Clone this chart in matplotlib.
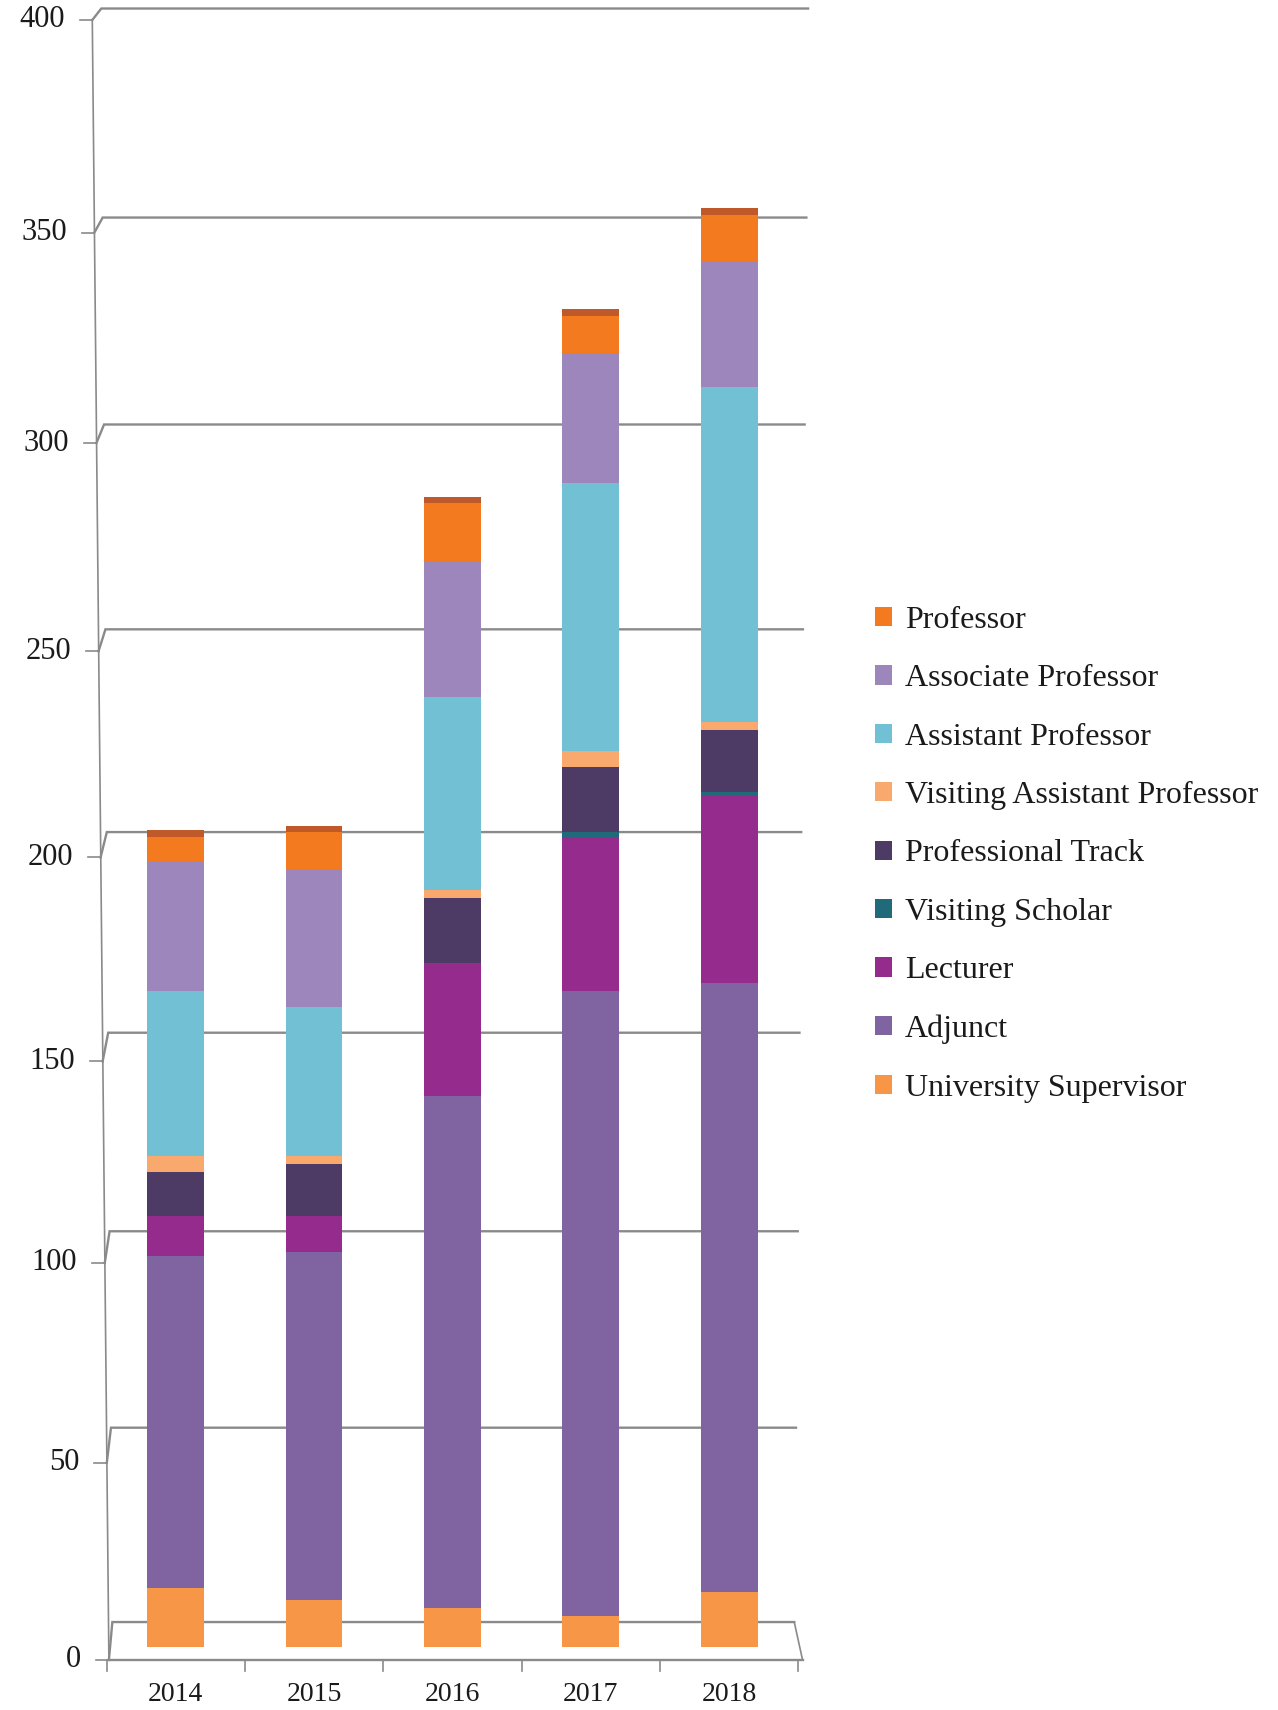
import numpy as np
import matplotlib.pyplot as plt
from matplotlib.patches import Patch

plt.rcParams['font.family'] = ['Liberation Serif', 'DejaVu Serif']

years = ['2014', '2015', '2016', '2017', '2018']

# stacked bottom -> top
univ_supervisor = [15, 12, 10, 8, 14]
adjunct = [84, 88, 129, 157, 153]
lecturer = [10, 9, 33, 38, 46]
visiting_scholar = [0, 0, 0, 1, 1]
professional_track = [11, 13, 16, 16, 15]
visiting_asst_prof = [4, 2, 2, 4, 2]
assistant_prof = [41, 37, 47, 65, 81]
associate_prof = [32, 34, 33, 31, 30]
professor = [6, 9, 14, 9, 11]

y_ticks = [0, 50, 100, 150, 200, 250, 300, 350, 400]

stack = [
    ('University Supervisor', univ_supervisor, '#f79646'),
    ('Adjunct', adjunct, '#8064a2'),
    ('Lecturer', lecturer, '#952b8d'),
    ('Visiting Scholar', visiting_scholar, '#216a79'),
    ('Professional Track', professional_track, '#4e3b65'),
    ('Visiting Assistant Professor', visiting_asst_prof, '#f9a96e'),
    ('Assistant Professor', assistant_prof, '#71c0d4'),
    ('Associate Professor', associate_prof, '#9c86bb'),
    ('Professor', professor, '#f47a20'),
]

grid_c = '#8a8a8a'
text_c = '#1a1a1a'

# slight perspective on the value axis (3d excel look)
k = 1.1e-4
def fwd(v):
    return v + k * v ** 2
def inv(y):
    return (-1 + np.sqrt(np.maximum(1 + 4 * k * y, 0))) / (2 * k)

# offsets of the back wall / front edge relative to the bars
def d_back(v):
    return 6.4 - 0.0115 * v
def d_front(v):
    return 3.3 - 0.006 * v
def x_front(v):
    return -0.483 - 0.0003 * v
def x_right(v):
    return 4.47 + 0.00025 * v

fig = plt.figure(figsize=(12.78, 17.10), dpi=100)
ax = fig.add_axes([0.0563, 0.014, 0.5955, 0.984])
ax.set_yscale('function', functions=(fwd, inv))
ax.set_xlim(-0.75, 4.75)
ax.set_ylim(-10, 403)

x = np.arange(len(years))
bottom = np.zeros(len(years))
handles = []
for name, vals, col in stack:
    ax.bar(x, vals, 0.41, bottom=bottom, color=col, zorder=3)
    bottom += np.array(vals)
    handles.append(Patch(facecolor=col, label=name))
# top face of the 3d column
ax.bar(x, 1.6, 0.41, bottom=bottom, color='#c0592a', zorder=3)

# back wall gridlines + left wall connectors + tick labels
for v in y_ticks:
    yb = v + d_back(v)
    yf = v - d_front(v)
    xf = x_front(v)
    ax.plot([xf, xf + 0.025 + 0.0001 * v, x_right(v)], [yf, yb, yb],
            color=grid_c, lw=1.7, zorder=1, solid_joinstyle='miter')
    ax.plot([xf - 0.09, xf], [yf, yf], color=grid_c, lw=1.2, zorder=1)
    ax.text(xf - 0.2, yf, str(v), ha='right', va='center',
            fontsize=22, color=text_c)

# front vertical axis
ax.plot([x_front(0), x_front(400)], [-d_front(0), 400 - d_front(400)],
        color=grid_c, lw=1.2, zorder=1)
# floor front edge and right edge
ax.plot([x_front(0), 4.53], [-d_front(0), -d_front(0)], color=grid_c, lw=1.7, zorder=1)
ax.plot([x_right(0), 4.53], [d_back(0), -d_front(0)], color=grid_c, lw=1.2, zorder=1)
# category tick marks
for xt in np.append(x - 0.5, x[-1] + 0.5):
    ax.plot([xt, xt], [-d_front(0), -d_front(0) - 2.8], color=grid_c, lw=1.2, zorder=1)

ax.set_yticks([])
ax.set_xticks(x, years)
ax.tick_params(axis='x', length=0, pad=-3, labelsize=20, labelcolor=text_c)
for s in ax.spines.values():
    s.set_visible(False)

fig.legend(handles[::-1], [h.get_label() for h in handles[::-1]],
           loc='upper left', bbox_to_anchor=(0.672, 0.655), frameon=False,
           fontsize=23, labelspacing=0.92, handlelength=0.55, handleheight=0.55,
           handletextpad=0.4, borderpad=0, labelcolor=text_c)

fig.savefig('out.png', dpi=100)
